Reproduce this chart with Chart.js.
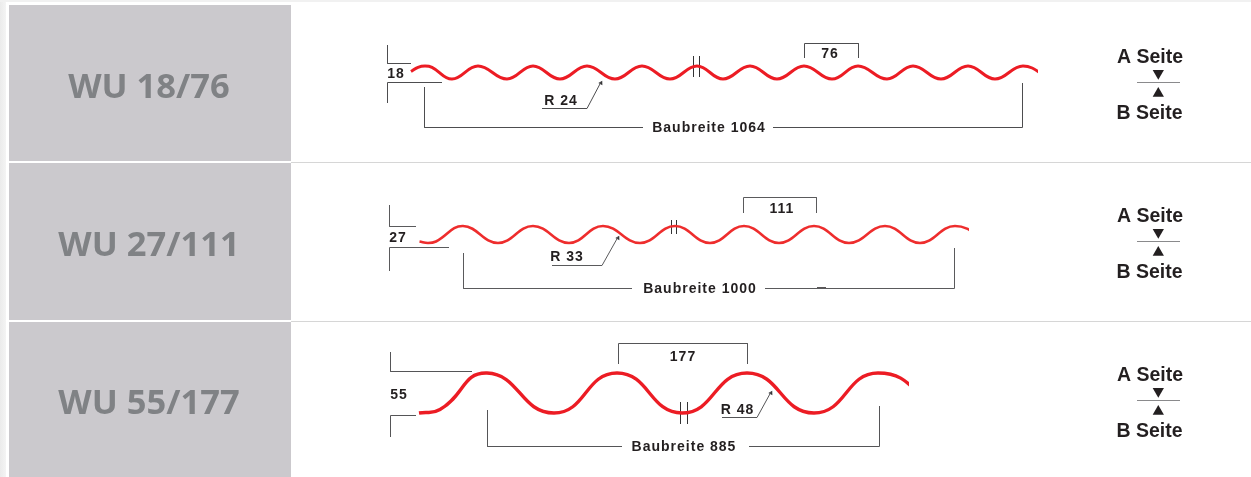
<!DOCTYPE html>
<html><head><meta charset="utf-8">
<style>html,body{margin:0;padding:0;background:#fff}#w{width:1251px;height:477px;overflow:hidden}canvas{display:block}</style>
<script src="https://cdn.jsdelivr.net/npm/chart.js@4"></script>
</head><body><div id="w"><canvas id="c" width="1251" height="477"></canvas></div>
<script>
// Profile curves: crest and trough points; each sheet is cut off at its end mark
const wave1X=[411,418,425,432,452,478,507,533,560,587,615,642,670,697,723,750,777,804,832,858,887,913,941,968,995,1023,1050];
const wave1Y=[71.5,67.3,66,67.3,79,66,79,66,79,66,79,66,79,66,79,66,79,66,79,66,79,66,79,66,79,66,79];
const wave2X=[419.5,428,436,463,498,533,569,603,640,675,710,744,779,814,849,885,920,955,990];
const wave2Y=[241.5,243,241.5,226,243,226,243,226,243,226,243,226,243,226,243,226,243,226,243];
const wave3X=[419,440,487,554,617,682,747,814,878,943];
const wave3Y=[413,409.5,373,413,373,413,373,413,373,413];
const sheetEnd=[1038,969,909];
// Gaps in the profiles
const gap1X=[696.5,696.5],gap1Y=[60,75];
const gap2X=[674,674],gap2Y=[222,232];
const gap3X=[684,684],gap3Y=[405,421];
// Dimension lines (null separates strokes)
const dim1X=[387.5,387.5,411,null,387.5,387.5,442,null,424.5,424.5,643,null,773,1022.5,1022.5,null,804.5,804.5,858.5,858.5,null,542,587,601];
const dim1Y=[45,63.5,63.5,null,103,82.5,82.5,null,87,127.5,127.5,null,127.5,127.5,83,null,58,43.5,43.5,58,null,108.5,108.5,82];
const dim2X=[389.5,389.5,416,null,389.5,389.5,449,null,463.5,463.5,632,null,765,954.5,954.5,null,743.5,743.5,816.5,816.5,null,552,602,618];
const dim2Y=[205,226.5,226.5,null,271,247.5,247.5,null,253,288.5,288.5,null,288.5,288.5,248,null,213,197.5,197.5,213,null,265.5,265.5,237];
const dim3X=[390.5,390.5,472,null,390.5,390.5,416,null,487.5,487.5,622,null,749,879.5,879.5,null,618.5,618.5,747.5,747.5,null,722,757,771];
const dim3Y=[352,371.5,371.5,null,437,415.5,415.5,null,410,446.5,446.5,null,446.5,446.5,406,null,364,343.5,343.5,364,null,417.5,417.5,392];
const tick2X=[817,826],tick2Y=[288,288];
// Break marks
const break1X=[693.5,693.5,null,699.5,699.5],break1Y=[56,77,null,56,77];
const break2X=[671.5,671.5,null,676.5,676.5],break2Y=[220,234,null,220,234];
const break3X=[680.5,680.5,null,687.5,687.5],break3Y=[402,424,null,402,424];
// A / B side markers
const sideLineX=[1137,1180,null,1137,1180,null,1137,1180];
const sideLineY=[82.5,82.5,null,241.5,241.5,null,400.5,400.5];
const downX=[1158.3,1158.3,1158.3],downY=[73.3,232.3,391.3];
const upX=[1158.3,1158.3,1158.3],upY=[93.5,252.5,411.5];
const arrowX=[601,618,771],arrowY=[83,238,393];
// Text
const titleTexts=["WU 18/76","WU 27/111","WU 55/177"];
const titleX=[149,149,149],titleY=[88,246,404];
const sideTexts=["A Seite","B Seite","A Seite","B Seite","A Seite","B Seite"];
const sideX=[1150,1149.5,1150,1149.5,1150,1149.5],sideY=[57.5,113.5,216.5,272.5,375.5,431.5];
const dimTexts=["18","76","R 24","Baubreite 1064","27","111","R 33","Baubreite 1000","55","177","R 48","Baubreite 885"];
const dimX=[396,830,561,709,398,782,567,700,399,683,737.5,684];
const dimY=[74,54,101,128.5,238,209,257,289,395,357,410,447];
// Background bands
const bandTop=[5,163,322],bandBottom=[161,320,477];
const ruleY=[162,321];

const red=(w,t,c,end)=>({borderColor:c,borderWidth:w,tension:t,pointRadius:0,borderCapStyle:'butt',borderJoinStyle:'round',clip:{left:0,top:0,bottom:0,right:end-1251}});
const pts=(xs,ys)=>xs.map((x,i)=>({x,y:ys[i]}));
const thin=(xs,ys,c,w)=>({data:pts(xs,ys),borderColor:c,borderWidth:w||1,pointRadius:0,tension:0,spanGaps:false});
const tri=(xs,ys,r,rot,c)=>({data:pts(xs,ys),showLine:false,pointStyle:'triangle',pointRadius:r,pointRotation:rot,pointBackgroundColor:c||'#231f20',pointBorderWidth:0});

const backdrop={id:'backdrop',beforeDatasetsDraw(ch){
  const {ctx,scales:{x,y}}=ch;ctx.save();
  const g=ctx.createLinearGradient(0,0,x.getPixelForValue(6),0);
  g.addColorStop(0,'#ebebeb');g.addColorStop(1,'#f4f4f4');
  ctx.fillStyle=g;ctx.fillRect(0,0,x.getPixelForValue(6),477);
  ctx.fillStyle='#f1f1f1';ctx.fillRect(0,0,1251,y.getPixelForValue(2));
  ctx.fillStyle='#cbc9cd';
  bandTop.forEach((t,i)=>{const a=y.getPixelForValue(t),b=y.getPixelForValue(bandBottom[i]);
    ctx.fillRect(x.getPixelForValue(9),a,x.getPixelForValue(291)-x.getPixelForValue(9),b-a);});
  ctx.fillStyle='#d6d6d6';
  ruleY.forEach(r=>ctx.fillRect(x.getPixelForValue(291),y.getPixelForValue(r),960,1));
  ctx.restore();
}};
const writing={id:'writing',afterDatasetsDraw(ch){
  const {ctx,scales:{x,y}}=ch;ctx.save();
  ctx.textAlign='center';ctx.textBaseline='middle';
  ctx.font='bold 34.5px "Open Sans"';ctx.fillStyle='#808285';
  titleTexts.forEach((t,i)=>ctx.fillText(t,x.getPixelForValue(titleX[i]),y.getPixelForValue(titleY[i])));
  ctx.font='bold 19.5px "Liberation Sans"';ctx.fillStyle='#231f20';
  sideTexts.forEach((t,i)=>ctx.fillText(t,x.getPixelForValue(sideX[i]),y.getPixelForValue(sideY[i])));
  ctx.font='bold 14px "Liberation Sans"';ctx.letterSpacing='1px';
  dimTexts.forEach((t,i)=>ctx.fillText(t,x.getPixelForValue(dimX[i]),y.getPixelForValue(dimY[i])));
  ctx.restore();
}};

new Chart(document.getElementById('c'),{
  type:'line',
  plugins:[backdrop,writing],
  data:{datasets:[
    {data:pts(wave1X,wave1Y),...red(3,0.42,'#ec1c24',sheetEnd[0])},
    {data:pts(wave2X,wave2Y),...red(2.6,0.42,'#ee2d2d',sheetEnd[1])},
    {data:pts(wave3X,wave3Y),...red(3.4,0.5,'#ec1c24',sheetEnd[2])},
    thin(gap1X,gap1Y,'#ffffff',5),
    thin(gap2X,gap2Y,'#ffffff',3),
    thin(gap3X,gap3Y,'#ffffff',6),
    thin(dim1X,dim1Y,'#4d4d4f'),
    thin(dim2X,dim2Y,'#5a5a5c'),
    thin(dim3X,dim3Y,'#555557'),
    thin(tick2X,tick2Y,'#231f20',1.5),
    thin(break1X,break1Y,'#333335'),
    thin(break2X,break2Y,'#333335'),
    thin(break3X,break3Y,'#333335'),
    thin(sideLineX,sideLineY,'#8a8a8c',1.2),
    tri(downX,downY,6.5,180),
    tri(upX,upY,6.5,0),
    tri(arrowX,arrowY,2.6,28,'#333335')
  ]},
  options:{
    responsive:false,animation:false,devicePixelRatio:1,
    layout:{padding:0,autoPadding:false},
    plugins:{legend:{display:false},tooltip:{enabled:false},title:{display:false}},
    scales:{
      x:{type:'linear',min:0,max:1251,display:false},
      y:{type:'linear',min:0,max:477,reverse:true,display:false}
    }
  }
});
</script></body></html>
